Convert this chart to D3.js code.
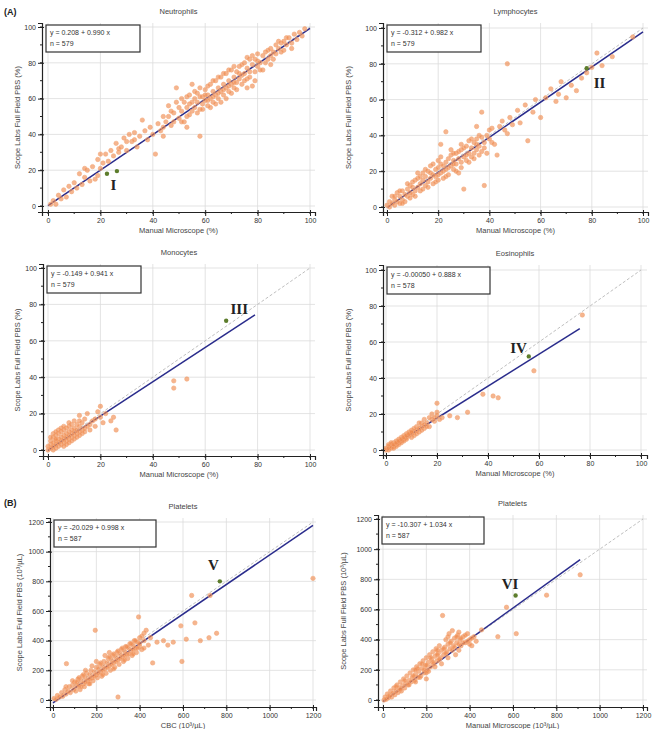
<!DOCTYPE html>
<html>
<head>
<meta charset="utf-8">
<script src="https://cdn.jsdelivr.net/npm/d3@7/dist/d3.min.js"></script>
<style>
  body { margin: 0; background: #fff; }
  svg { font-family: "Liberation Sans", Arial, sans-serif; }
  .tick text { fill: #333; font-size: 7px; }
</style>
</head>
<body>
<script>
// [manual, scope] pairs
var neutrophils = [[1,1],[2,3],[3,1],[4,6],[5,4],[6,9],[7,5],[8,11],[9,8],[10,13],[11,10],[12,18],[13,12],[14,16],[15,20],[16,14],[17,22],[18,15],[19,26],[20,21],[21,24],[22,29],[23,25],[24,31],[25,28],[26,35],[27,30],[28,33],[29,38],[30,31],[31,40],[32,36],[33,41],[34,33],[35,39],[36,48],[37,42],[38,37],[39,44],[40,40],[41,29],[42,46],[43,42],[44,50],[45,47],[46,56],[47,45],[48,52],[49,66],[50,49],[50,55],[51,53],[52,58],[52,47],[53,50],[54,57],[54,62],[55,68],[55,53],[56,60],[56,55],[57,58],[57,63],[58,39],[58,54],[59,61],[59,57],[60,65],[60,59],[61,62],[61,56],[62,68],[62,60],[63,64],[63,58],[64,70],[64,62],[65,66],[65,60],[66,72],[66,64],[67,68],[67,62],[68,74],[68,66],[69,70],[69,64],[70,76],[70,68],[71,72],[71,66],[72,75],[72,69],[73,78],[73,71],[74,73],[74,68],[75,80],[75,74],[76,77],[76,71],[77,82],[77,75],[78,79],[78,67],[79,82],[79,75],[80,85],[80,78],[81,80],[82,84],[82,76],[83,86],[84,82],[85,88],[85,84],[86,86],[87,90],[87,85],[88,88],[89,91],[90,87],[90,92],[91,90],[92,94],[93,91],[94,96],[95,93],[96,97],[97,95],[98,99],
  [44,44],[46,50],[47,53],[48,47],[49,58],[51,47],[51,60],[53,55],[53,61],[54,51],[55,58],[56,64],[57,52],[58,61],[58,66],[59,54],[60,62],[61,67],[61,59],[62,55],[63,70],[63,61],[64,57],[65,63],[65,72],[66,58],[67,65],[67,74],[68,60],[69,67],[69,76],[70,63],[71,69],[71,78],[72,65],[73,74],[74,79],[75,70],[76,83],[77,72],[78,84],[79,70],[80,81],[81,76],[83,80],[84,87],[86,82],[88,92],[89,86],[91,94],[93,88],[30,36],[27,32],[33,37],[20,29],[19,17],[14,21],[44,39],[53,44],[76,66],[85,79]];
var lymphocytes = [[0,1],[1,0],[1,3],[2,2],[2,6],[3,1],[3,4],[4,3],[4,8],[5,2],[5,6],[6,4],[6,9],[7,7],[7,3],[8,10],[8,6],[9,8],[9,12],[10,7],[10,11],[11,9],[11,15],[12,11],[12,16],[13,13],[13,9],[14,15],[14,19],[15,12],[15,17],[16,20],[16,14],[17,16],[17,23],[18,18],[18,13],[19,21],[19,17],[20,22],[20,15],[20,26],[21,19],[21,24],[21,35],[22,20],[22,16],[23,25],[23,21],[23,42],[24,27],[24,18],[25,23],[25,29],[26,21],[26,26],[27,30],[27,24],[28,27],[28,19],[29,32],[29,25],[30,28],[30,10],[31,34],[31,26],[32,30],[32,37],[33,28],[33,33],[34,36],[34,30],[35,38],[35,32],[36,34],[36,40],[37,53],[37,31],[38,36],[38,12],[39,40],[40,38],[41,44],[42,35],[43,29],[44,45],[45,48],[46,43],[47,80],[47,41],[48,50],[49,46],[51,54],[52,47],[54,57],[55,37],[57,53],[58,60],[60,50],[62,61],[64,66],[66,59],[67,63],[68,70],[70,61],[72,68],[74,65],[76,72],[78,75],[80,78],[82,86],[84,79],[88,84],[96,95],
  [3,6],[5,9],[6,2],[8,13],[9,5],[10,14],[11,6],[12,19],[13,17],[14,10],[15,21],[16,11],[17,19],[18,24],[19,14],[20,18],[21,28],[22,23],[23,17],[24,22],[25,32],[26,24],[27,20],[28,31],[29,22],[30,33],[31,29],[32,25],[33,38],[34,27],[35,35],[36,29],[37,39],[38,33],[39,30],[40,43],[41,36],[35,45],[29,35],[26,30]];
var monocytes = [[0,0],[0,2],[1,1],[1,3],[1,5],[2,0],[2,2],[2,4],[2,7],[3,1],[3,3],[3,5],[3,8],[4,2],[4,4],[4,6],[4,9],[5,3],[5,5],[5,7],[5,10],[6,4],[6,6],[6,8],[6,11],[7,5],[7,7],[7,9],[7,12],[8,6],[8,8],[8,10],[8,13],[9,7],[9,9],[9,11],[9,14],[10,8],[10,10],[10,12],[10,16],[11,9],[11,11],[11,14],[12,10],[12,13],[12,19],[13,11],[13,15],[14,12],[14,17],[15,13],[15,20],[16,14],[17,16],[18,17],[19,21],[20,18],[20,24],[21,15],[22,20],[24,16],[25,18],[26,11],[48,38],[48,34],[53,39],
  [1,7],[2,9],[3,6],[4,11],[5,12],[6,2],[7,3],[8,4],[9,5],[10,6],[11,7],[12,8],[13,9],[14,10],[3,10],[6,13],[8,15],[12,16],[16,11],[18,13]];
var eosinophils = [[0,0],[0,1],[1,0],[1,2],[1,1],[2,1],[2,3],[2,2],[3,2],[3,4],[3,1],[4,3],[4,5],[4,2],[5,4],[5,6],[5,3],[6,5],[6,7],[6,4],[7,6],[7,8],[7,5],[8,7],[8,9],[8,6],[9,8],[9,10],[10,9],[10,7],[10,11],[11,10],[11,8],[12,11],[12,13],[13,12],[13,10],[14,13],[14,15],[15,14],[15,12],[16,15],[17,13],[18,20],[18,17],[19,16],[20,26],[20,19],[22,18],[25,19],[28,18],[32,21],[38,31],[42,30],[44,29],[58,44],[77,75],
  [1,3],[2,4],[3,3],[4,4],[5,5],[6,6],[7,7],[8,8],[9,9],[10,10],[12,9],[14,11],[16,13],[15,17],[13,15],[11,12],[17,18],[19,18],[20,21],[21,17]];
var plateletsCbc = [[5,10],[15,5],[20,30],[30,20],[40,50],[45,25],[55,70],[60,40],[62,245],[70,60],[75,90],[80,50],[90,100],[95,70],[100,120],[105,60],[110,90],[115,140],[120,100],[125,70],[130,130],[135,160],[140,110],[145,90],[150,150],[155,180],[160,130],[165,110],[170,170],[175,200],[180,150],[185,130],[190,190],[195,470],[200,220],[200,170],[205,150],[210,210],[215,240],[220,190],[225,160],[230,230],[235,260],[240,210],[245,180],[250,250],[255,280],[260,230],[265,200],[270,270],[275,300],[280,250],[285,220],[290,290],[295,320],[300,270],[300,20],[305,240],[310,310],[315,340],[320,290],[325,260],[330,330],[335,360],[340,310],[345,280],[350,350],[355,380],[360,330],[365,300],[370,370],[375,400],[380,350],[385,320],[390,390],[395,560],[400,420],[400,360],[410,340],[420,450],[420,400],[430,470],[440,370],[450,420],[460,250],[480,390],[510,400],[530,370],[555,390],[590,500],[595,260],[615,410],[640,705],[655,520],[680,400],[720,420],[725,705],[755,450],[1200,820],
  [110,120],[130,90],[150,120],[170,140],[190,160],[210,180],[220,250],[230,200],[250,220],[260,290],[270,240],[280,310],[290,260],[300,330],[310,280],[320,350],[330,300],[340,360],[350,310],[360,380],[370,340],[380,400],[390,350],[400,380],[410,430],[150,200],[180,230],[200,260],[240,300],[260,320],[120,150],[90,130],[140,170],[60,90],[170,110],[230,170],[280,210],[330,270],[370,310],[420,350]];
var plateletsManual = [[5,0],[10,20],[15,5],[20,40],[25,15],[30,30],[35,60],[40,20],[45,45],[50,80],[55,35],[60,60],[65,100],[70,50],[75,80],[80,120],[85,60],[90,95],[95,140],[100,80],[105,110],[110,160],[115,100],[120,130],[125,180],[130,120],[135,150],[140,200],[145,130],[150,170],[155,220],[160,150],[165,190],[170,240],[175,160],[180,210],[185,260],[190,180],[195,230],[200,280],[200,140],[205,200],[210,250],[215,300],[220,220],[225,270],[230,320],[235,240],[240,290],[245,340],[250,260],[255,310],[260,360],[265,280],[270,330],[275,560],[280,300],[285,350],[290,400],[295,320],[300,370],[305,440],[310,340],[315,390],[320,460],[325,360],[330,410],[335,300],[340,380],[345,430],[350,330],[355,400],[360,360],[370,420],[380,380],[390,440],[400,400],[410,360],[420,420],[455,465],[530,420],[570,615],[615,440],[755,695],[910,830],
  [60,90],[80,70],[100,130],[120,100],[140,160],[150,120],[160,210],[170,150],[180,240],[190,200],[200,230],[210,190],[220,280],[230,250],[240,220],[250,300],[260,270],[270,240],[280,340],[290,310],[300,280],[310,380],[320,330],[330,350],[340,420],[350,370],[360,410],[370,380],[380,430],[390,390],[400,370],[410,410],[430,390],[350,450],[300,420],[250,330],[200,180],[150,200]];

// highlighted cases I..VI
var highlights = [[[22.5,18],[26.3,19.5]], [[78,77.5]], [[68,71]], [[56,52]], [[770,800]], [[612,693]]];
var romanLabels = ["I", "II", "III", "IV", "V", "VI"];
var labelPos = [[25,9], [83,66.5], [73,74.5], [52,54], [740,877], [586,738]];

var titles = ["Neutrophils", "Lymphocytes", "Monocytes", "Eosinophils", "Platelets", "Platelets"];
var equations = ["y = 0.208 + 0.990 x", "y = -0.312 + 0.982 x", "y = -0.149 + 0.941 x", "y = -0.00050 + 0.888 x", "y = -20.029 + 0.998 x", "y = -10.307 + 1.034 x"];
var intercepts = [0.208, -0.312, -0.149, -0.0005, -20.029, -10.307];
var slopes = [0.990, 0.982, 0.941, 0.888, 0.998, 1.034];
var counts = [579, 579, 579, 578, 587, 587];
var fitMax = [100, 100, 79, 76, 1200, 910];
var xLabels = ["Manual Microscope (%)", "Manual Microscope (%)", "Manual Microscope (%)", "Manual Microscope (%)", "CBC (10\u00b3/\u00b5L)", "Manual Microscope (10\u00b3/\u00b5L)"];
var yLabels = ["Scope Labs Full Field PBS (%)", "Scope Labs Full Field PBS (%)", "Scope Labs Full Field PBS (%)", "Scope Labs Full Field PBS (%)", "Scope Labs Full Field PBS (10\u00b3/\u00b5L)", "Scope Labs Full Field PBS (10\u00b3/\u00b5L)"];
var pctTicks = [0, 20, 40, 60, 80, 100];
var pltTicks = [0, 200, 400, 600, 800, 1000, 1200];

var allData = [neutrophils, lymphocytes, monocytes, eosinophils, plateletsCbc, plateletsManual];

// pixel frame of each panel: axis x, px of 0, px of max, right edge, axis y, px of 0, px of max, top edge
var frames = [
  {ax: 42, x0: 48, x1: 310, xr: 315, ab: 212, y0: 206, y1: 27, yt: 23, max: 100, ticks: pctTicks, minor: 10, lx: 20},
  {ax: 383, x0: 387, x1: 643, xr: 648, ab: 212, y0: 207, y1: 28, yt: 23, max: 100, ticks: pctTicks, minor: 10, lx: 351},
  {ax: 43, x0: 48, x1: 310, xr: 315, ab: 456, y0: 450, y1: 268, yt: 264, max: 100, ticks: pctTicks, minor: 10, lx: 20},
  {ax: 383, x0: 386, x1: 641, xr: 647, ab: 455, y0: 450, y1: 270, yt: 265, max: 100, ticks: pctTicks, minor: 10, lx: 351},
  {ax: 50, x0: 53, x1: 313, xr: 316, ab: 707, y0: 700, y1: 522, yt: 518, max: 1200, ticks: pltTicks, minor: 100, lx: 22},
  {ax: 378, x0: 383, x1: 643, xr: 647, ab: 707, y0: 700, y1: 519, yt: 515, max: 1200, ticks: pltTicks, minor: 100, lx: 346}
];

var svg = d3.select("body").append("svg")
  .attr("width", 654)
  .attr("height", 729);

frames.forEach(function(f, i) {
  var x = d3.scaleLinear().domain([0, f.max]).range([f.x0, f.x1]);
  var y = d3.scaleLinear().domain([0, f.max]).range([f.y0, f.y1]);
  var xLo = x.invert(f.ax), xHi = x.invert(f.xr);
  var yLo = y.invert(f.ab), yHi = y.invert(f.yt);
  x.domain([xLo, xHi]).range([f.ax, f.xr]);
  y.domain([yLo, yHi]).range([f.ab, f.yt]);

  var g = svg.append("g");
  var minorTicks = d3.range(0, f.max + 1, f.minor);

  // grid
  g.append("g").selectAll("line.gx").data(f.ticks).enter().append("line")
    .attr("x1", d => x(d)).attr("x2", d => x(d))
    .attr("y1", f.ab).attr("y2", f.yt)
    .attr("stroke", "#dcdcdc").attr("stroke-width", 0.8);
  g.append("g").selectAll("line.gy").data(f.ticks).enter().append("line")
    .attr("x1", f.ax).attr("x2", f.xr)
    .attr("y1", d => y(d)).attr("y2", d => y(d))
    .attr("stroke", "#dcdcdc").attr("stroke-width", 0.8);

  // identity line
  g.append("line")
    .attr("x1", x(0)).attr("y1", y(0)).attr("x2", x(f.max)).attr("y2", y(f.max))
    .attr("stroke", "#b8b8b8").attr("stroke-width", 0.9).attr("stroke-dasharray", "3,2");

  // regression line
  g.append("line")
    .attr("x1", x(0)).attr("y1", y(intercepts[i]))
    .attr("x2", x(fitMax[i])).attr("y2", y(intercepts[i] + slopes[i] * fitMax[i]))
    .attr("stroke", "#2a2c8c").attr("stroke-width", 1.5);

  // points
  g.append("g").selectAll("circle").data(allData[i]).enter().append("circle")
    .attr("cx", d => x(d[0])).attr("cy", d => y(d[1]))
    .attr("r", 2.2)
    .attr("fill", "#ef8444").attr("fill-opacity", 0.6)
    .attr("stroke", "#f4a878").attr("stroke-width", 0.6);

  g.append("g").selectAll("circle").data(highlights[i]).enter().append("circle")
    .attr("cx", d => x(d[0])).attr("cy", d => y(d[1]))
    .attr("r", 2.2).attr("fill", "#5d7d2c");

  g.append("text")
    .attr("x", x(labelPos[i][0])).attr("y", y(labelPos[i][1]))
    .attr("text-anchor", "middle")
    .style("font-family", "'Liberation Serif', 'DejaVu Serif', serif")
    .style("font-weight", "bold").style("font-size", "15px")
    .attr("fill", "#222")
    .text(romanLabels[i]);

  // axes
  var xAxis = d3.axisBottom(x).tickValues(f.ticks).tickFormat(d3.format("d")).tickSize(4).tickPadding(2);
  var yAxis = d3.axisLeft(y).tickValues(f.ticks).tickFormat(d3.format("d")).tickSize(4).tickPadding(2);
  var gx = g.append("g").attr("transform", "translate(0," + f.ab + ")").call(xAxis);
  var gy = g.append("g").attr("transform", "translate(" + f.ax + ",0)").call(yAxis);
  [gx, gy].forEach(function(a) {
    a.select(".domain").attr("stroke", "#222").attr("stroke-width", 1.2);
    a.selectAll(".tick line").attr("stroke", "#222");
  });
  gx.selectAll(".tick line").attr("y1", -2);
  gy.selectAll(".tick line").attr("x1", 2);
  g.append("g").selectAll("line").data(minorTicks).enter().append("line")
    .attr("x1", d => x(d)).attr("x2", d => x(d))
    .attr("y1", f.ab).attr("y2", f.ab + 2).attr("stroke", "#222");
  g.append("g").selectAll("line").data(minorTicks).enter().append("line")
    .attr("x1", f.ax).attr("x2", f.ax - 2)
    .attr("y1", d => y(d)).attr("y2", d => y(d)).attr("stroke", "#222");

  // equation box
  var bw = f.max > 100 ? 102 : (i === 3 ? 103 : 94);
  var box = g.append("g").attr("transform", "translate(" + (f.ax + 4) + "," + (f.yt + 2) + ")");
  box.append("rect").attr("width", bw).attr("height", 27)
    .attr("fill", "#fff").attr("stroke", "#333").attr("stroke-width", 1.2);
  box.append("text").attr("x", 4).attr("y", 10).attr("font-size", 7).attr("fill", "#333").text(equations[i]);
  box.append("text").attr("x", 4).attr("y", 21).attr("font-size", 7).attr("fill", "#333").text("n = " + counts[i]);

  // titles and labels
  g.append("text").attr("x", (f.ax + f.xr) / 2).attr("y", f.yt - 9)
    .attr("text-anchor", "middle").attr("font-size", 7.5).attr("fill", "#444").text(titles[i]);
  g.append("text").attr("x", (f.ax + f.xr) / 2).attr("y", f.ab + 21)
    .attr("text-anchor", "middle").attr("font-size", 7.5).attr("fill", "#444").text(xLabels[i]);
  g.append("text")
    .attr("transform", "translate(" + f.lx + "," + ((f.ab + f.yt) / 2) + ") rotate(-90)")
    .attr("text-anchor", "middle").attr("font-size", 7.5).attr("fill", "#444").text(yLabels[i]);
});

svg.append("text").attr("x", 4).attr("y", 15).attr("font-size", 9).attr("font-weight", "bold").attr("fill", "#222").text("(A)");
svg.append("text").attr("x", 4).attr("y", 506).attr("font-size", 9).attr("font-weight", "bold").attr("fill", "#222").text("(B)");
</script>
</body>
</html>
